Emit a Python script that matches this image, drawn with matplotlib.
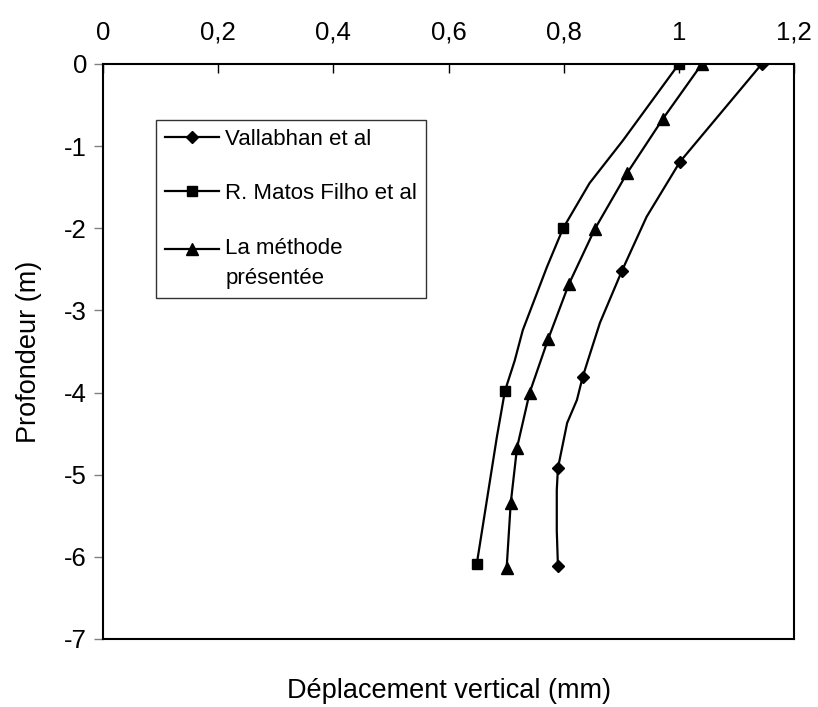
import matplotlib
matplotlib.use('Agg')
import matplotlib.pyplot as plt
import numpy as np

plt.rcParams['font.family'] = ['Liberation Sans', 'DejaVu Sans']

# Vallabhan et al (diamonds) - line trace and marker indices
vall_x = [1.144, 1.002, 0.944, 0.901, 0.863, 0.842, 0.833, 0.823, 0.806, 0.790, 0.788, 0.788, 0.790]
vall_y = [0.0, -1.19, -1.86, -2.52, -3.15, -3.61, -3.81, -4.09, -4.37, -4.92, -5.19, -5.68, -6.11]
vall_marks = [0, 1, 3, 6, 9, 12]

# R. Matos Filho et al (squares)
matos_x = [1.000, 0.903, 0.845, 0.799, 0.771, 0.729, 0.715, 0.698, 0.684, 0.649]
matos_y = [0.0, -0.93, -1.45, -2.00, -2.47, -3.24, -3.61, -3.98, -4.54, -6.09]
matos_marks = [0, 3, 7, 9]

# La méthode présentée (triangles)
meth_x = [1.040, 0.972, 0.910, 0.854, 0.809, 0.773, 0.741, 0.719, 0.708, 0.701]
meth_y = [0.0, -0.67, -1.33, -2.01, -2.68, -3.35, -4.00, -4.67, -5.35, -6.13]

x_ticks = [0, 0.2, 0.4, 0.6, 0.8, 1.0, 1.2]
x_tick_labels = ['0', '0,2', '0,4', '0,6', '0,8', '1', '1,2']
y_ticks = [0, -1, -2, -3, -4, -5, -6, -7]

fig = plt.figure(figsize=(8.18, 7.07), dpi=100)
ax = fig.add_axes([0.1259, 0.0962, 0.8448, 0.8133])

ax.plot(vall_x, vall_y, color='black', lw=1.6, marker='D', ms=6.5,
        markevery=vall_marks, label='Vallabhan et al')
ax.plot(matos_x, matos_y, color='black', lw=1.6, marker='s', ms=6.5,
        markevery=matos_marks, label='R. Matos Filho et al')
ax.plot(meth_x, meth_y, color='black', lw=1.6, marker='^', ms=8,
        label='La méthode\nprésentée')

ax.set_xlim(0, 1.2)
ax.set_ylim(-7, 0)
ax.xaxis.tick_top()
ax.set_xticks(x_ticks)
ax.set_xticklabels(x_tick_labels)
ax.set_yticks(y_ticks)
ax.set_yticklabels([str(v) for v in y_ticks])
ax.tick_params(axis='x', direction='in', length=6.5, width=1, pad=14, labelsize=18.5)
ax.tick_params(axis='y', direction='out', length=6.5, width=1, pad=5, labelsize=18.5,
               color='#808080')

for s in ax.spines.values():
    s.set_linewidth(1.5)
    s.set_color('black')

ax.set_xlabel('Déplacement vertical (mm)', fontsize=19.5, labelpad=28)
ax.xaxis.set_label_position('bottom')
ax.set_ylabel('Profondeur (m)', fontsize=19.5, labelpad=16)

leg = ax.legend(loc='upper left', bbox_to_anchor=(0.0767, 0.9026), borderaxespad=0,
                frameon=True, fancybox=False, edgecolor='black', fontsize=16,
                handlelength=2.45, handletextpad=0.27, labelspacing=1.5,
                borderpad=0.4)
leg.get_frame().set_linewidth(1.0)
for t in leg.get_texts():
    t.set_linespacing(1.6)

# put the two-line entry's symbol level with its first line, as in the original
h = leg.legend_handles[2]
h.set_ydata(np.asarray(h.get_ydata()) + 10.5)

fig.savefig('out.png', dpi=100)
